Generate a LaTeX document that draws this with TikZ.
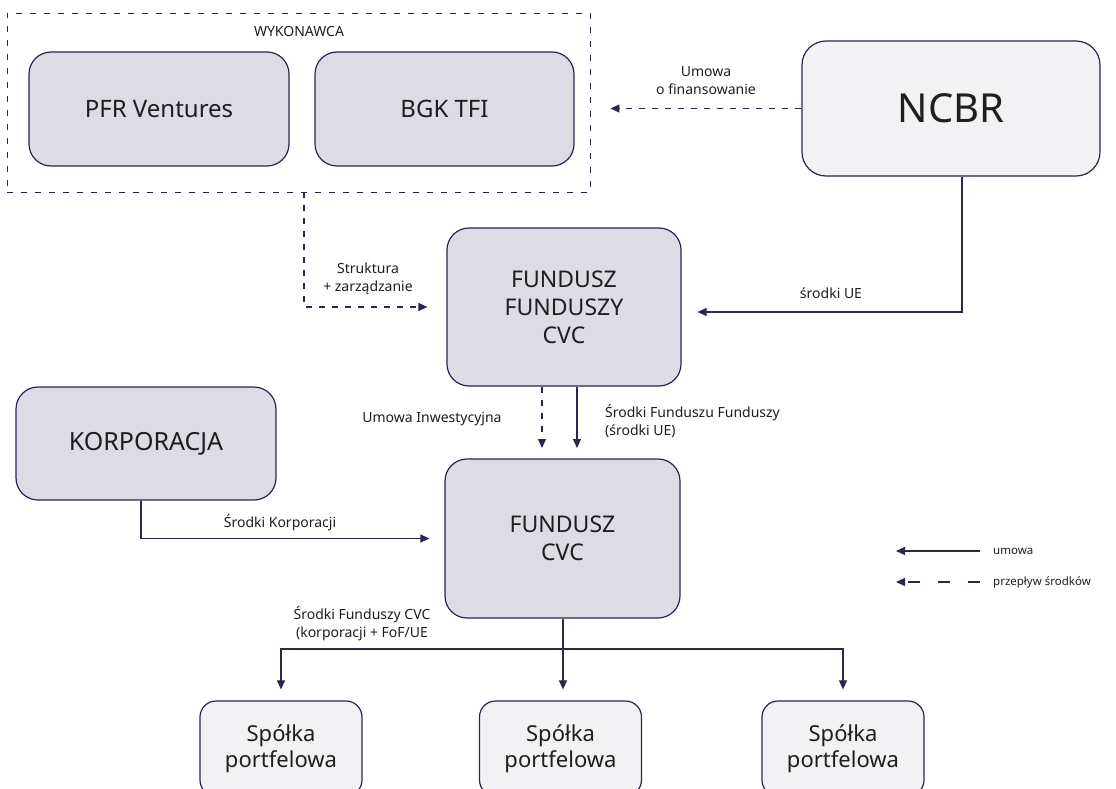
\documentclass[tikz,border=0pt]{standalone}
\usepackage{fontspec}
\setmainfont{Noto Sans}
\usetikzlibrary{arrows.meta,calc}
\definecolor{ink}{HTML}{2B2550}
\definecolor{boxfill}{HTML}{DDDCE5}
\definecolor{lightfill}{HTML}{F2F2F4}
\definecolor{txt}{HTML}{1E1E1E}
\begin{document}
\begin{tikzpicture}[x=1pt,y=-1pt,
  boxdark/.style={draw=ink, line width=1.2pt, fill=boxfill, rounded corners=22pt, inner sep=0pt, text=txt, align=center},
  boxlight/.style={draw=ink, line width=1.2pt, fill=lightfill, rounded corners=22pt, inner sep=0pt, text=txt, align=center},
  framebox/.style={draw=ink, line width=0.9pt, dash pattern=on 6pt off 8pt, inner sep=0pt},
  conn/.style={draw=ink, line width=1.1pt, -{Triangle[length=9pt,width=8pt]}},
  dconn/.style={conn, dash pattern=on 6pt off 7pt},
  lbl/.style={text=txt, font=\fontsize{14}{18}\selectfont, align=center, inner sep=0pt},
  leg/.style={text=txt, font=\fontsize{11.5}{14}\selectfont, inner sep=0pt, anchor=west},
]
\useasboundingbox (0,0) rectangle (1116,789);
\clip (0,0) rectangle (1116,789);
\fill[white] (0,0) rectangle (1116,789);

% frame
\node[framebox, minimum width=583pt, minimum height=179pt] (wyk) at (298.5,102.5) {};
\node[lbl] (wyklbl) at (299,31) {WYKONAWCA};

% boxes
\node[boxdark, minimum width=260pt, minimum height=114pt, font=\fontsize{24}{28}\selectfont] (pfr) at (159,109) {PFR Ventures};
\node[boxdark, minimum width=259pt, minimum height=114pt, font=\fontsize{24}{28}\selectfont] (bgk) at (444.5,109) {BGK TFI};
\node[boxlight, rounded corners=24pt, minimum width=298pt, minimum height=135pt, font=\fontsize{40}{44}\selectfont] (ncbr) at (951,108.5) {NCBR};
\node[boxdark, minimum width=234pt, minimum height=158pt, font=\fontsize{23}{28}\selectfont] (ffc) at (564,307) {FUNDUSZ\\FUNDUSZY\\CVC};
\node[boxdark, minimum width=260pt, minimum height=113pt, font=\fontsize{25}{30}\selectfont] (korp) at (146,443.5) {KORPORACJA};
\node[boxdark, minimum width=235pt, minimum height=159pt, font=\fontsize{23}{28}\selectfont] (fcvc) at (562.5,538.5) {FUNDUSZ\\CVC};
\node[boxlight, rounded corners=16pt, minimum width=162pt, minimum height=95pt, font=\fontsize{22}{26}\selectfont] (sp1) at (281,748.5) {Spółka\\portfelowa};
\node[boxlight, rounded corners=16pt, minimum width=162pt, minimum height=95pt, font=\fontsize{22}{26}\selectfont] (sp2) at (560.5,748.5) {Spółka\\portfelowa};
\node[boxlight, rounded corners=16pt, minimum width=162pt, minimum height=95pt, font=\fontsize{22}{26}\selectfont] (sp3) at (843,748.5) {Spółka\\portfelowa};

% connectors
\draw[dconn, shorten >=20pt] (ncbr.west) -- (wyk.east |- ncbr.west);
\draw[conn] ([xshift=11pt]ncbr.south) |- ([xshift=16pt,yshift=-5pt]ffc.east);
\draw[dconn] ([xshift=5.5pt]wyk.south) |- ([xshift=-19pt]ffc.west);
\coordinate (d1) at (542,448);
\coordinate (d2) at (577,448);
\draw[dconn] (ffc.south -| d1) -- (d1);
\draw[conn] (ffc.south -| d2) -- (d2);
\draw[conn] ([xshift=-5pt]korp.south) |- ([xshift=-15pt]fcvc.west);
\coordinate (split) at (563,649);
\draw[draw=ink, line width=1.1pt] (fcvc.south -| split) -- (split);
\draw[conn, shorten >=11pt] (split) -| (sp1.north);
\draw[conn, shorten >=11pt] (split) -| (sp3.north);
\draw[conn, shorten >=11pt] (split) -- (split |- sp2.north);

% labels
\node[lbl] (l1) at (706,81) {Umowa\\o finansowanie};
\node[lbl] (l2) at (831,293) {środki UE};
\node[lbl] (l3) at (368,279) {Struktura\\+ zarządzanie};
\node[lbl] (l4) at (432,419) {Umowa Inwestycyjna};
\node[lbl, align=left, anchor=west] (l5) at (605,421) {Środki Funduszu Funduszy\\(środki UE)};
\node[lbl] (l6) at (280,523) {Środki Korporacji};
\node[lbl] (l7) at (362,624) {Środki Funduszy CVC\\(korporacji + FoF/UE};

% legend
\coordinate (lg1a) at (980,551);
\coordinate (lg1b) at (896,551);
\coordinate (lg2a) at (980,582);
\coordinate (lg2b) at (896,582);
\draw[conn] (lg1a) -- (lg1b);
\draw[conn, dash pattern=on 12pt off 18pt] (lg2a) -- (lg2b);
\node[leg] (lgt1) at (993,551) {umowa};
\node[leg] (lgt2) at (993,582) {przepływ środków};
\end{tikzpicture}
\end{document}
